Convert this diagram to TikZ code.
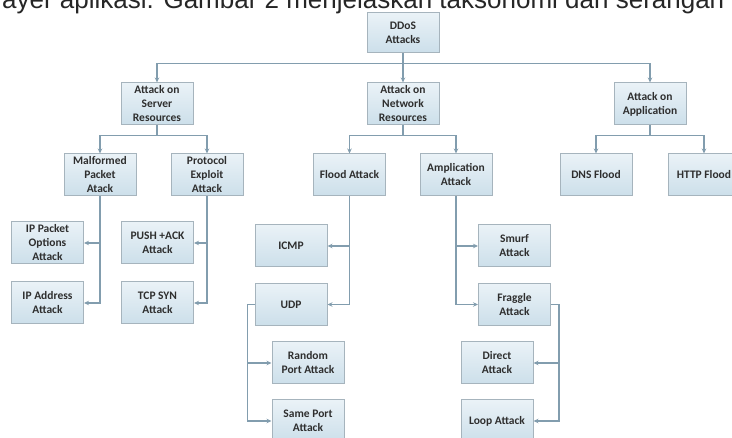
\documentclass[tikz,border=0pt]{standalone}
\usepackage{fontspec}
\setmainfont{Carlito}
\newfontfamily\pagefont{Liberation Sans}
\usetikzlibrary{arrows.meta}
\definecolor{boxtop}{HTML}{EAF2F7}
\definecolor{boxbottom}{HTML}{CCDFEA}
\definecolor{boxline}{HTML}{A6B4BD}
\definecolor{wire}{HTML}{829DAE}
\definecolor{boxtext}{HTML}{2E2E2E}

\tikzset{
  attackbox/.style={draw=boxline, line width=1pt, top color=boxtop, bottom color=boxbottom,
    minimum width=72pt, minimum height=42pt, inner sep=1pt, align=center,
    font=\bfseries\fontsize{11.5}{14}\selectfont, text=boxtext},
  link/.style={wire, line width=1.6pt, -{Stealth[length=5pt,width=4.5pt]}},
}

\begin{document}
\begin{tikzpicture}[x=1pt, y=-1pt]
\useasboundingbox (0,0) rectangle (732,438);
\clip (0,0) rectangle (732,438);

% cut-off line of the page text above the figure
\node[anchor=base west, inner sep=0, font=\pagefont\fontsize{26}{30}\selectfont, text=black!85] (pagetext) at (2,9) {ayer aplikasi. Gambar 2 menjelaskan taksonomi dan serangan};

% Root
\node[attackbox, minimum height=40pt] (ddos) at (403,33) {DDoS\\Attacks};

% First level
\node[attackbox] (server)  at (157,104) {Attack on\\Server\\Resources};
\node[attackbox] (network) at (403,104) {Attack on\\Network\\Resources};
\node[attackbox] (app)     at (650,104) {Attack on\\Application};

% Second level
\node[attackbox] (malformed) at (100,175)   {Malformed\\Packet\\Atack};
\node[attackbox] (protocol)  at (207,175)   {Protocol\\Exploit\\Attack};
\node[attackbox] (flood)     at (349.5,175) {Flood Attack};
\node[attackbox] (ampl)      at (456,175)   {Amplication\\Attack};
\node[attackbox] (dns)       at (596,175)   {DNS Flood};
\node[attackbox] (http)      at (704,175)   {HTTP Flood};

% Third level
\node[attackbox] (ipopt)   at (47.5,243)  {IP Packet\\Options\\Attack};
\node[attackbox] (ipaddr)  at (47.5,303)  {IP Address\\Attack};
\node[attackbox] (pushack) at (157.5,243) {PUSH +ACK\\Attack};
\node[attackbox] (tcpsyn)  at (157.5,303) {TCP SYN\\Attack};
\node[attackbox] (icmp)    at (291,246)   {ICMP};
\node[attackbox] (udp)     at (291,304.5) {UDP};
\node[attackbox] (smurf)   at (514.5,246) {Smurf\\Attack};
\node[attackbox] (fraggle) at (514.5,304.5) {Fraggle\\Attack};

% Fourth level
\node[attackbox] (random) at (308,363) {Random\\Port Attack};
\node[attackbox] (same)   at (308,421) {Same Port\\Attack};
\node[attackbox] (direct) at (497,363) {Direct\\Attack};
\node[attackbox] (loop)   at (497,421) {Loop Attack};

% Connectors
\draw[link] (ddos.south) -- ++(0,10) -| (server.north);
\draw[link] (ddos.south) -- (network.north);
\draw[link] (ddos.south) -- ++(0,10) -| (app.north);

\foreach \p/\c in {server/malformed, server/protocol, network/flood, network/ampl, app/dns, app/http}
  \draw[link] (\p.south) -- ++(0,10) -| (\c.north);

\foreach \p/\c/\a in {malformed/ipopt/east, malformed/ipaddr/east, protocol/pushack/east, protocol/tcpsyn/east,
                      flood/icmp/east, flood/udp/east, ampl/smurf/west, ampl/fraggle/west}
  \draw[link] (\p.south) |- (\c.\a);

\foreach \c in {random, same}
  \draw[link] (udp.west) -- ++(-7,0) |- (\c.west);
\foreach \c in {direct, loop}
  \draw[link] (fraggle.east) -- ++(8,0) |- (\c.east);

\end{tikzpicture}
\end{document}
